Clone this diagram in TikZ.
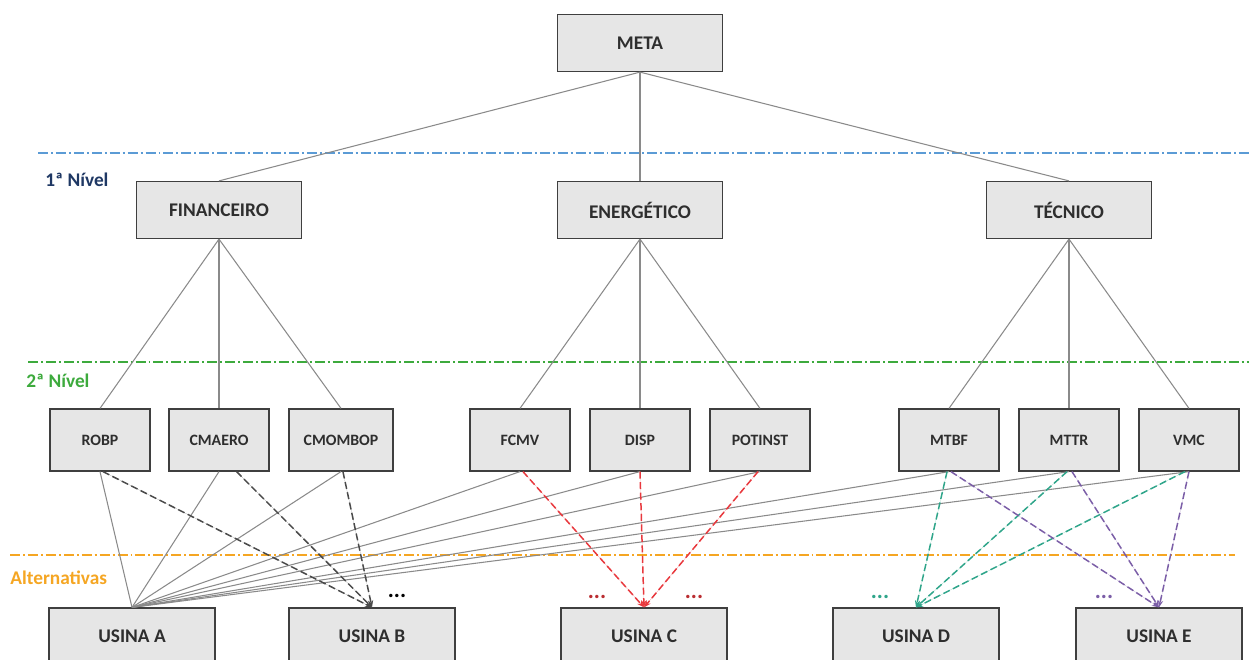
\documentclass[tikz,border=0pt]{standalone}
\usepackage{fontspec}
\setmainfont{Carlito}
\usetikzlibrary{arrows.meta}

\definecolor{boxfill}{HTML}{E6E6E6}
\definecolor{boxline}{HTML}{3F3F3F}
\definecolor{boxtext}{HTML}{2E2E2E}
\definecolor{link}{HTML}{8A8A8A}
\definecolor{darkdash}{HTML}{4A4A4A}
\definecolor{reddash}{HTML}{E8383D}
\definecolor{tealdash}{HTML}{2FA58A}
\definecolor{purpledash}{HTML}{7B5EA7}
\definecolor{lvlblue}{HTML}{5B9BD5}
\definecolor{lvlgreen}{HTML}{3DAA3D}
\definecolor{lvlorange}{HTML}{F5A623}
\definecolor{navy}{HTML}{1F3864}

\tikzset{
  box/.style={draw=boxline, fill=boxfill, line width=0.7pt, inner sep=0pt,
    text=boxtext, font=\fontsize{11}{13}\selectfont\bfseries},
  topbox/.style={box, minimum width=3.3cm, minimum height=1.14cm},
  critbox/.style={box, minimum width=2.0cm, minimum height=1.24cm,
    font=\fontsize{9}{11}\selectfont\bfseries},
  plantbox/.style={box, minimum width=3.32cm, minimum height=1.14cm},
  tree/.style={draw=link, line width=0.6pt},
  dlink/.style={line width=0.85pt, dash pattern=on 4pt off 2pt,
    -{Stealth[length=4pt,width=3pt]}},
  levelline/.style={line width=0.8pt, dash pattern=on 5.7pt off 1.7pt on 1.1pt off 1.7pt},
  levellabel/.style={anchor=west, inner sep=0pt, font=\fontsize{11}{13}\selectfont\bfseries},
  more/.style={inner sep=0pt, font=\fontsize{13}{15}\selectfont\bfseries}
}

\begin{document}
\begin{tikzpicture}[x=0.02cm, y=-0.02cm]
\useasboundingbox (0,0) rectangle (1249,660);

% level separators
\coordinate (b1) at (38,153);   \coordinate (b2) at (1249,153);
\coordinate (g1) at (28,362);   \coordinate (g2) at (1249,362);
\coordinate (o1) at (10,555);   \coordinate (o2) at (1235,555);
\draw[levelline, draw=lvlblue] (b1) -- (b2);
\draw[levelline, draw=lvlgreen] (g1) -- (g2);
\draw[levelline, draw=lvlorange] (o1) -- (o2);

\node[levellabel, text=navy] (l1) at (45,180) {1ª Nível};
\node[levellabel, text=lvlgreen] (l2) at (26,381) {2ª Nível};
\node[levellabel, text=lvlorange] (l3) at (10,578) {Alternativas};

% goal and first level
\node[topbox] (meta) at (640,43) {META};
\node[topbox] (fin) at (219,210) {FINANCEIRO};
\node[topbox] (ene) at (640,210) {ENERGÉTICO};
\node[topbox] (tec) at (1069,210) {TÉCNICO};

% second level
\node[critbox] (robp) at (100,440) {ROBP};
\node[critbox] (cmaero) at (219,440) {CMAERO};
\node[critbox, minimum width=2.08cm] (cmombop) at (341,440) {CMOMBOP};
\node[critbox] (fcmv) at (520,440) {FCMV};
\node[critbox] (disp) at (640,440) {DISP};
\node[critbox] (potinst) at (760,440) {POTINST};
\node[critbox] (mtbf) at (949,440) {MTBF};
\node[critbox] (mttr) at (1069,440) {MTTR};
\node[critbox] (vmc) at (1189,440) {VMC};

% alternatives
\node[plantbox] (ua) at (132,636.5) {USINA A};
\node[plantbox] (ub) at (372,636.5) {USINA B};
\node[plantbox] (uc) at (644,636.5) {USINA C};
\node[plantbox] (ud) at (916,636.5) {USINA D};
\node[plantbox] (ue) at (1159,636.5) {USINA E};

% hierarchy
\foreach \c in {fin,ene,tec} \draw[tree] (meta.south) -- (\c.north);
\foreach \c in {robp,cmaero,cmombop} \draw[tree] (fin.south) -- (\c.north);
\foreach \c in {fcmv,disp,potinst} \draw[tree] (ene.south) -- (\c.north);
\foreach \c in {mtbf,mttr,vmc} \draw[tree] (tec.south) -- (\c.north);

% every criterion evaluated for USINA A
\foreach \c in {robp,cmaero,cmombop,fcmv,disp,potinst,mtbf,mttr,vmc}
  \draw[tree] (\c.south) -- (ua.north);

% USINA B
\draw[dlink, draw=darkdash, fill=darkdash] ([xshift=1.7pt]robp.south) -- (ub.north);
\draw[dlink, draw=darkdash, fill=darkdash] ([xshift=10pt]cmaero.south) -- (ub.north);
\draw[dlink, draw=darkdash, fill=darkdash] ([xshift=1.1pt]cmombop.south) -- (ub.north);
\node[more, text=black] (mb) at (397,596) {...};

% USINA C
\draw[dlink, draw=reddash, fill=reddash] ([xshift=1.7pt]fcmv.south) -- (uc.north);
\draw[dlink, draw=reddash, fill=reddash] (disp.south) -- (uc.north);
\draw[dlink, draw=reddash, fill=reddash] ([xshift=-1.1pt]potinst.south) -- (uc.north);
\node[more, text=reddash!80!black] (mc1) at (597,597) {...};
\node[more, text=reddash!80!black] (mc2) at (694,597) {...};

% USINA D
\draw[dlink, draw=tealdash, fill=tealdash] ([xshift=-1.1pt]mtbf.south) -- (ud.north);
\draw[dlink, draw=tealdash, fill=tealdash] ([xshift=-1.1pt]mttr.south) -- (ud.north);
\draw[dlink, draw=tealdash, fill=tealdash] ([xshift=-2.3pt]vmc.south) -- (ud.north);
\node[more, text=tealdash] (md) at (880,597) {...};

% USINA E
\draw[dlink, draw=purpledash, fill=purpledash] ([xshift=1.1pt]mtbf.south) -- (ue.north);
\draw[dlink, draw=purpledash, fill=purpledash] ([xshift=1.7pt]mttr.south) -- (ue.north);
\draw[dlink, draw=purpledash, fill=purpledash] (vmc.south) -- (ue.north);
\node[more, text=purpledash] (me) at (1104,597) {...};
\end{tikzpicture}
\end{document}
